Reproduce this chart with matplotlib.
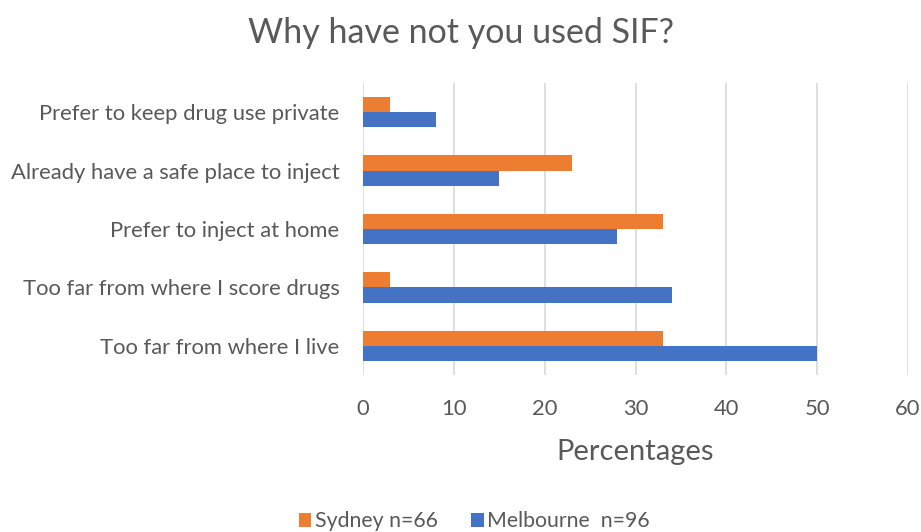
import numpy as np
import matplotlib.pyplot as plt

plt.rcParams['font.family'] = ['Lato', 'DejaVu Sans']

reasons = ["Prefer to keep drug use private",
           "Already have a safe place to inject",
           "Prefer to inject at home",
           "Too far from where I score drugs",
           "Too far from where I live"]
sydney = [3, 23, 33, 3, 33]
melbourne = [8, 15, 28, 34, 50]
xticks = [0, 10, 20, 30, 40, 50, 60]

txt = "#595959"
fig = plt.figure(figsize=(9.21, 5.32), dpi=100)
ax = fig.add_axes([363/921, 1-375/532, 545/921, 292/532])

y = np.arange(len(reasons))
h = 0.26
ax.barh(y - h/2, sydney, height=h, color="#ED7D31", label="Sydney n=66", zorder=3)
ax.barh(y + h/2, melbourne, height=h, color="#4472C4", label="Melbourne  n=96", zorder=3)

ax.set_ylim(len(reasons) - 0.5, -0.5)
ax.set_xlim(0, 60)
ax.set_xticks(xticks)
ax.set_yticks(y)
ax.set_yticklabels(reasons)
ax.grid(axis="x", color="#d9d9d9", lw=1.2, zorder=0)
for s in ["top", "right", "bottom", "left"]:
    ax.spines[s].set_visible(False)
ax.tick_params(axis="both", length=0, labelsize=15.8, labelcolor=txt)
ax.tick_params(axis="x", pad=17)
ax.tick_params(axis="y", pad=17)

ax.set_xlabel("Percentages", fontsize=21, color=txt, labelpad=15)
fig.suptitle("Why have not you used SIF?", fontsize=24.5, color=txt, y=0.968)

fig.legend(loc="lower center", bbox_to_anchor=(0.515, -0.035), ncol=2, frameon=False,
           fontsize=15.3, labelcolor=txt, handlelength=0.6, handleheight=0.6,
           handletextpad=0.15, columnspacing=1.6)

fig.savefig("out.png", dpi=100)
